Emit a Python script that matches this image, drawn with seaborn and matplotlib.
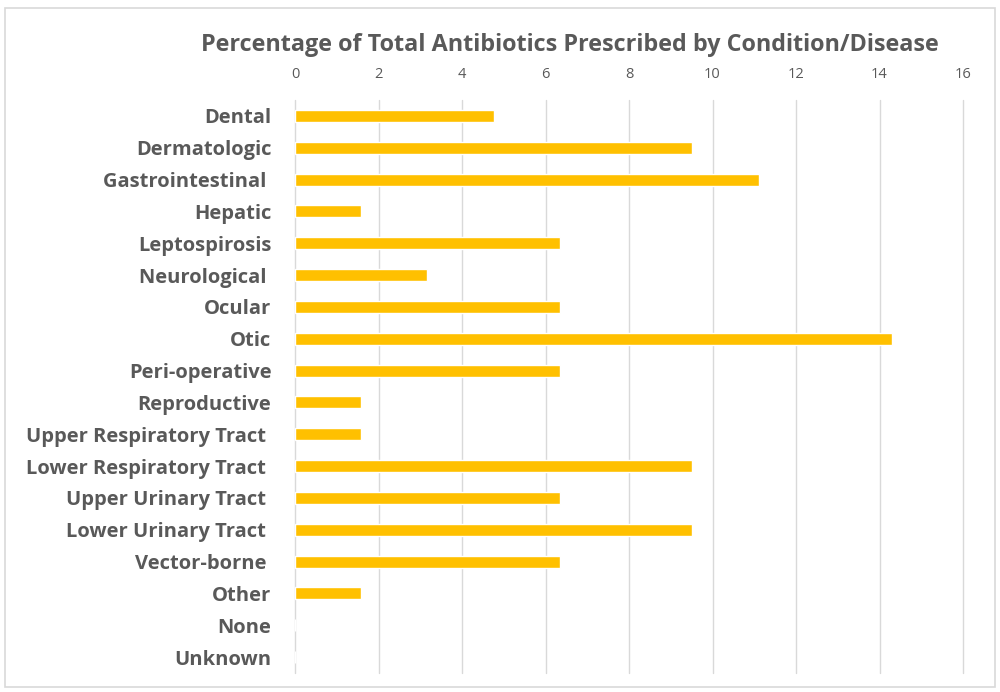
import pandas as pd
import matplotlib.pyplot as plt
import seaborn as sns
from matplotlib.patches import Rectangle

# Data
conditions = ['Dental', 'Dermatologic', 'Gastrointestinal ', 'Hepatic', 'Leptospirosis',
              'Neurological ', 'Ocular', 'Otic', 'Peri-operative', 'Reproductive',
              'Upper Respiratory Tract ', 'Lower Respiratory Tract ', 'Upper Urinary Tract ',
              'Lower Urinary Tract ', 'Vector-borne ', 'Other', 'None', 'Unknown']
percent = [4.76, 9.52, 11.11, 1.59, 6.35, 3.17, 6.35, 14.29, 6.35, 1.59,
           1.59, 9.52, 6.35, 9.52, 6.35, 1.59, 0.0, 0.0]
x_ticks = [0, 2, 4, 6, 8, 10, 12, 14, 16]

df = pd.DataFrame({'condition': conditions, 'percent': percent})

sns.set_style("white")
plt.rcParams['font.family'] = ['Open Sans', 'DejaVu Sans']

TEXT = '#595959'
fig = plt.figure(figsize=(10, 6.92), dpi=100)
ax = fig.add_axes([0.295, 0.0275, 0.668, 0.828])

sns.barplot(data=df, x='percent', y='condition', orient='h', color='#FFC000',
            width=0.38, saturation=1, ax=ax)

ax.set_xlim(0, 16)
ax.set_ylim(17.5, -0.5)
ax.set_xticks(x_ticks)
ax.xaxis.tick_top()
ax.tick_params(axis='x', length=0, labelsize=10.5, labelcolor=TEXT, pad=13)
ax.tick_params(axis='y', length=0, labelsize=14.5, labelcolor=TEXT, pad=17)
for lbl in ax.get_yticklabels():
    lbl.set_fontweight('bold')
ax.grid(axis='x', color='#d9d9d9', linewidth=1)
for gl in ax.get_xgridlines():
    gl.set_clip_on(False)
ax.set_axisbelow(True)
for s in ax.spines.values():
    s.set_visible(False)
ax.set_xlabel('')
ax.set_ylabel('')

fig.text(0.57, 0.935, 'Percentage of Total Antibiotics Prescribed by Condition/Disease',
         ha='center', va='center', fontsize=16.8, fontweight='bold', color=TEXT)

# Light chart frame
fig.patches.append(Rectangle((0.005, 0.007), 0.99, 0.982, transform=fig.transFigure,
                             fill=False, edgecolor='#d9d9d9', linewidth=1.2))

fig.savefig('out.png', dpi=100)
